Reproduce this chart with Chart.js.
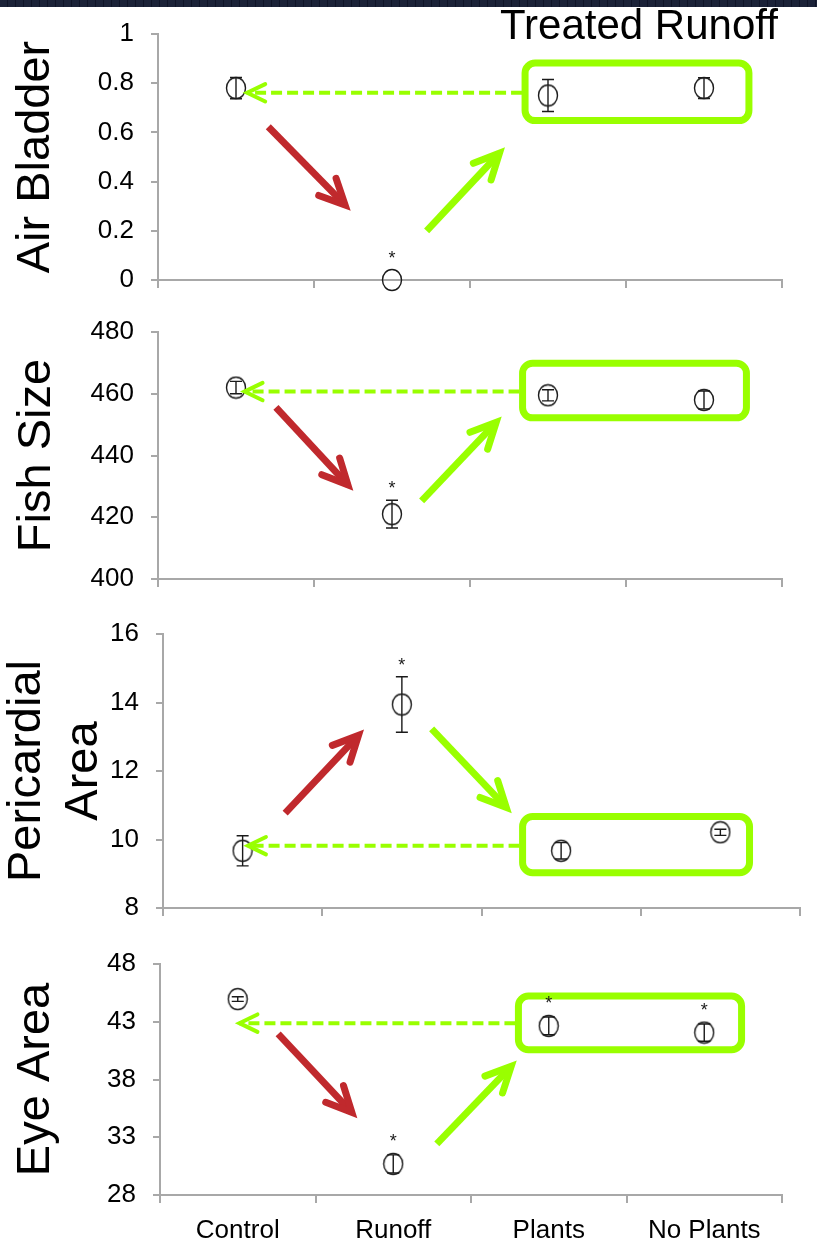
<!DOCTYPE html>
<html>
<head>
<meta charset="utf-8">
<title>Runoff effects</title>
<script src="https://cdn.jsdelivr.net/npm/chart.js@4.4.1/dist/chart.umd.min.js"></script>
<style>
  html, body { margin: 0; padding: 0; background: #fff; }
  #page { position: relative; width: 817px; height: 1246px; overflow: hidden; }
  #band { position: absolute; left: 0; top: 0; width: 817px; height: 7px;
          background: repeating-linear-gradient(90deg, #1b2238 0 7px, #0f1428 7px 8px); }
  canvas { position: absolute; left: 0; }
</style>
</head>
<body>
<div id="page">
  <canvas id="c1" width="817" height="310" style="top:0px"></canvas>
  <canvas id="c2" width="817" height="300" style="top:310px"></canvas>
  <canvas id="c3" width="817" height="330" style="top:610px"></canvas>
  <canvas id="c4" width="817" height="306" style="top:940px"></canvas>
  <div id="band"></div>
</div>
<script>
// categorias e valores
const categories = ['Control', 'Runoff', 'Plants', 'No Plants'];

const airBladder = [0.78, 0, 0.75, 0.78];
const airBladderErr = [0.043, 0, 0.065, 0.042];
const airBladderStar = [false, true, false, false];
const airBladderTicks = [0, 0.2, 0.4, 0.6, 0.8, 1];

const fishSize = [462, 421, 459.5, 458];
const fishSizeErr = [2, 4.5, 1.8, 2.9];
const fishSizeStar = [false, true, false, false];
const fishSizeTicks = [400, 420, 440, 460, 480];

const pericardial = [9.67, 13.94, 9.67, 10.21];
const pericardialErr = [0.44, 0.81, 0.24, 0.09];
const pericardialStar = [false, true, false, false];
const pericardialTicks = [8, 10, 12, 14, 16];

const eyeArea = [44.96, 30.69, 42.64, 42.06];
const eyeAreaErr = [0.2, 0.78, 0.77, 0.75];
const eyeAreaStar = [false, true, true, true];
const eyeAreaTicks = [28, 33, 38, 43, 48];

const FONT = "'Liberation Sans', Arial, sans-serif";
const AXIS = '#a8a8a8';
const INK = '#1a1a1a';
const RED = '#c0292d';
const LIME = '#99ff00';

// marcador: elipse vazada
function makeMarker() {
    const c = document.createElement('canvas');
    c.width = 22;
    c.height = 24;
    const g = c.getContext('2d');
    g.strokeStyle = INK;
    g.lineWidth = 1.4;
    g.beginPath();
    g.ellipse(11, 12, 9.5, 10.5, 0, 0, Math.PI * 2);
    g.stroke();
    return c;
}
const marker = makeMarker();

function arrowHead(ctx, vx, vy, ang, len, spread) {
    ctx.beginPath();
    ctx.moveTo(vx + len * Math.cos(ang + Math.PI - spread), vy + len * Math.sin(ang + Math.PI - spread));
    ctx.lineTo(vx, vy);
    ctx.lineTo(vx + len * Math.cos(ang + Math.PI + spread), vy + len * Math.sin(ang + Math.PI + spread));
    ctx.stroke();
}

function solidArrow(ctx, x, y, a, color) {
    const x1 = x.getPixelForValue(a[0]), y1 = y.getPixelForValue(a[1]);
    const x2 = x.getPixelForValue(a[2]), y2 = y.getPixelForValue(a[3]);
    const ang = Math.atan2(y2 - y1, x2 - x1);
    const vx = x2 - 8 * Math.cos(ang), vy = y2 - 8 * Math.sin(ang);
    ctx.strokeStyle = color;
    ctx.lineWidth = 7;
    ctx.lineCap = 'butt';
    ctx.beginPath();
    ctx.moveTo(x1, y1);
    ctx.lineTo(vx, vy);
    ctx.stroke();
    ctx.lineCap = 'round';
    ctx.lineJoin = 'miter';
    arrowHead(ctx, vx, vy, ang, 28, 0.45);
}

const panelMarks = {
    id: 'panelMarks',
    afterDatasetsDraw(chart, args, opts) {
        const ctx = chart.ctx;
        const x = chart.scales.x, y = chart.scales.y;
        ctx.save();

        // caixa "Treated Runoff"
        const b = opts.box;
        const bl = x.getPixelForValue(b[0]), br = x.getPixelForValue(b[1]);
        const bt = y.getPixelForValue(b[2]), bb = y.getPixelForValue(b[3]);
        ctx.strokeStyle = LIME;
        ctx.lineWidth = 7;
        ctx.beginPath();
        ctx.roundRect(bl, bt, br - bl, bb - bt, 10);
        ctx.stroke();

        // seta tracejada de volta ao controle
        const dy = y.getPixelForValue(opts.dashed[0]);
        const tip = x.getPixelForValue(opts.dashed[1]);
        ctx.lineWidth = 4;
        ctx.setLineDash([11, 5]);
        ctx.lineCap = 'butt';
        ctx.beginPath();
        ctx.moveTo(bl - 3, dy);
        ctx.lineTo(tip + 4, dy);
        ctx.stroke();
        ctx.setLineDash([]);
        ctx.lineCap = 'round';
        arrowHead(ctx, tip + 4.5, dy, Math.PI, 20, 0.45);

        solidArrow(ctx, x, y, opts.red, RED);
        solidArrow(ctx, x, y, opts.green, LIME);

        // barras de erro e asteriscos
        ctx.strokeStyle = INK;
        ctx.fillStyle = INK;
        ctx.lineWidth = 1.4;
        ctx.lineCap = 'butt';
        opts.values.forEach((v, i) => {
            const px = x.getPixelForValue(i);
            const py = y.getPixelForValue(v);
            const e = opts.errors[i];
            let top = py - 10.5;
            if (e > 0) {
                const t = y.getPixelForValue(v + e), bo = y.getPixelForValue(v - e);
                ctx.beginPath();
                ctx.moveTo(px, t); ctx.lineTo(px, bo);
                ctx.moveTo(px - 6, t); ctx.lineTo(px + 6, t);
                ctx.moveTo(px - 6, bo); ctx.lineTo(px + 6, bo);
                ctx.stroke();
                top = Math.min(top, t);
            }
            if (opts.stars[i]) {
                ctx.font = '18px ' + FONT;
                ctx.textAlign = 'center';
                ctx.textBaseline = 'alphabetic';
                ctx.fillText('*', px, top - 16 + 10);
            }
        });

        if (opts.caption) {
            ctx.fillStyle = '#000';
            ctx.font = '42px ' + FONT;
            ctx.textAlign = 'left';
            ctx.textBaseline = 'alphabetic';
            ctx.fillText(opts.caption, 500, 39);
        }
        ctx.restore();
    }
};

function makePanel(id, p) {
    new Chart(document.getElementById(id), {
        type: 'line',
        data: {
            labels: categories,
            datasets: [{
                data: p.values,
                showLine: false,
                pointStyle: marker,
                pointRadius: 10,
                clip: false
            }]
        },
        options: {
            responsive: false,
            animation: false,
            events: [],
            layout: { padding: { top: p.top, right: p.right, left: 0, bottom: 0 } },
            plugins: {
                legend: { display: false },
                tooltip: { enabled: false },
                panelMarks: {
                    values: p.values, errors: p.errors, stars: p.stars,
                    box: p.box, dashed: p.dashed, red: p.red, green: p.green,
                    caption: p.caption
                }
            },
            scales: {
                x: {
                    offset: true,
                    afterFit: s => {
                        s.height = p.xHeight;
                        s.paddingLeft = 0; s.paddingRight = 0;
                    },
                    border: { display: true, color: AXIS, width: 2 },
                    grid: { offset: true, drawOnChartArea: false, drawTicks: true, tickLength: 8, color: AXIS, lineWidth: 2 },
                    ticks: { display: p.showLabels, color: '#000', font: { family: FONT, size: 26 }, padding: 12, maxRotation: 0 }
                },
                y: {
                    min: p.ticks[0],
                    max: p.ticks[p.ticks.length - 1],
                    afterBuildTicks: s => { s.ticks = p.ticks.map(v => ({ value: v })); },
                    afterFit: s => {
                        s.width = p.left;
                        s.paddingTop = 0; s.paddingBottom = 0;
                    },
                    border: { display: true, color: AXIS, width: 2 },
                    grid: { drawOnChartArea: false, drawTicks: true, tickLength: 7, color: AXIS, lineWidth: 2 },
                    ticks: { color: '#000', font: { family: FONT, size: 26 }, padding: 17, callback: v => String(v) },
                    title: {
                        display: true, text: p.title, color: '#000',
                        font: { family: FONT, size: 47, lineHeight: 1.21 },
                        padding: { top: p.titlePad, bottom: 0 }
                    }
                }
            }
        },
        plugins: [panelMarks]
    });
}

makePanel('c1', {
    values: airBladder, errors: airBladderErr, stars: airBladderStar, ticks: airBladderTicks,
    title: 'Air Bladder', titlePad: 8, top: 34, right: 35, left: 158, xHeight: 30, showLabels: false,
    box: [1.853, 3.288, 0.882, 0.648], dashed: [0.761, 0.043],
    red: [0.207, 0.623, 0.735, 0.282], green: [1.222, 0.200, 1.724, 0.539],
    caption: 'Treated Runoff'
});

makePanel('c2', {
    values: fishSize, errors: fishSizeErr, stars: fishSizeStar, ticks: fishSizeTicks,
    title: 'Fish Size', titlePad: 9, top: 22, right: 35, left: 158, xHeight: 31, showLabels: false,
    box: [1.837, 3.272, 469.9, 452.2], dashed: [460.7, 0.026],
    red: [0.256, 455.6, 0.752, 428.6], green: [1.190, 425.3, 1.703, 452.6]
});

makePanel('c3', {
    values: pericardial, errors: pericardialErr, stars: pericardialStar, ticks: pericardialTicks,
    title: ['Pericardial', 'Area'], titlePad: -1, top: 24, right: 17, left: 163, xHeight: 32, showLabels: false,
    box: [1.758, 3.183, 10.67, 9.03], dashed: [9.82, 0.005],
    red: [0.267, 10.77, 0.762, 13.21], green: [1.187, 13.23, 1.690, 10.77]
});

makePanel('c4', {
    values: eyeArea, errors: eyeAreaErr, stars: eyeAreaStar, ticks: eyeAreaTicks,
    title: 'Eye Area', titlePad: 8, top: 24, right: 35, left: 160, xHeight: 51, showLabels: true,
    box: [1.805, 3.240, 45.23, 40.58], dashed: [42.88, -0.018],
    red: [0.260, 41.95, 0.769, 34.65], green: [1.280, 32.42, 1.794, 39.64]
});
</script>
</body>
</html>
